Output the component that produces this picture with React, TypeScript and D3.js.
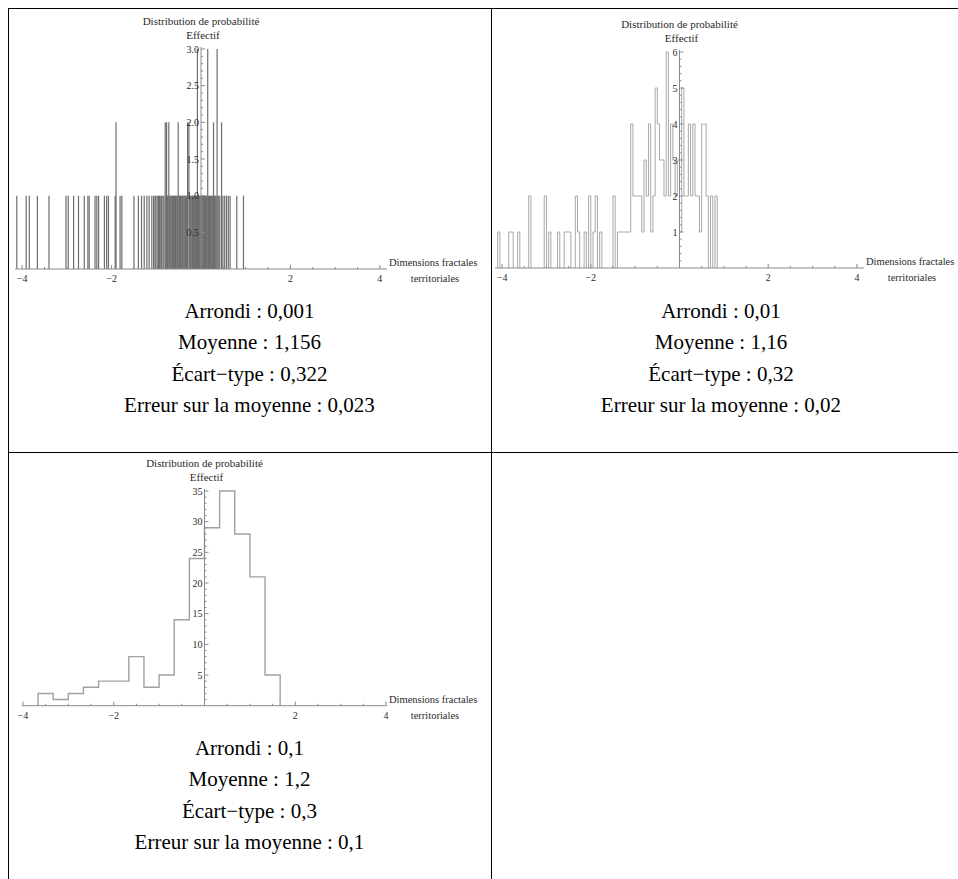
import * as d3 from "d3";
import { useEffect, useRef } from "react";

// texte sous chaque graphique
const arrondis = ["0,001", "0,01", "0,1"];
const moyennes = ["1,156", "1,16", "1,2"];
const ecartsTypes = ["0,322", "0,32", "0,3"];
const erreurs = ["0,023", "0,02", "0,1"];

// arrondi 0,001 : valeurs et effectifs
const valeurs1 = [
  -4.12, -3.91, -3.84, -3.66, -3.4, -3.02, -2.97, -2.85, -2.74, -2.61, -2.53, -2.5,
  -2.37, -2.33, -2.29, -2.16, -2.11, -2.07, -1.92, -1.9, -1.81, -1.77, -1.5, -1.4,
  -1.33, -1.27, -1.21, -1.16, -1.1, -1.06, -1.03, -1.01, -0.98, -0.95, -0.93, -0.9,
  -0.88, -0.85, -0.83, -0.8, -0.78, -0.77, -0.75, -0.74, -0.72, -0.7, -0.69, -0.67,
  -0.65, -0.64, -0.62, -0.61, -0.59, -0.57, -0.56, -0.54, -0.53, -0.51, -0.49, -0.48,
  -0.46, -0.45, -0.43, -0.41, -0.4, -0.38, -0.36, -0.35, -0.33, -0.32, -0.3, -0.27,
  -0.25, -0.24, -0.22, -0.2, -0.19, -0.17, -0.15, -0.14, -0.12, -0.1, -0.08, -0.06,
  -0.05, -0.03, -0.01, 0.01, 0.03, 0.05, 0.06, 0.08, 0.1, 0.12, 0.13, 0.15, 0.17,
  0.19, 0.21, 0.22, 0.24, 0.26, 0.28, 0.3, 0.32, 0.34, 0.36, 0.38, 0.4, 0.42, 0.46,
  0.49, 0.53, 0.57, 0.61, 0.65, 0.8, 0.95,
];
const effectifs1 = [
  1, 1, 1, 1, 1, 1, 1, 1, 1, 1, 1, 1,
  1, 1, 1, 1, 1, 1, 1, 2, 1, 1, 1, 1,
  1, 1, 1, 1, 1, 1, 1, 1, 1, 1, 1, 1,
  1, 1, 1, 2, 1, 2, 1, 1, 2, 1, 1, 1,
  1, 1, 1, 1, 1, 1, 1, 1, 1, 2, 1, 1,
  1, 1, 1, 1, 1, 1, 1, 1, 1, 1, 2, 2,
  1, 1, 1, 1, 1, 1, 1, 1, 1, 1, 3, 1,
  1, 1, 1, 1, 1, 1, 1, 1, 1, 1, 1, 3, 1,
  1, 1, 1, 1, 1, 2, 1, 1, 1, 3, 1, 1, 1, 2,
  1, 1, 1, 1, 1, 1, 1,
];

// arrondi 0,01 : bornes inférieures des classes et effectifs
const largeur2 = 0.05;
const bornes2 = [
  -4.1, -3.85, -3.8, -3.65, -3.4, -3.05, -2.95, -2.75, -2.6, -2.55, -2.5, -2.35, -2.3,
  -2.15, -2.05, -1.95, -1.9, -1.8, -1.5, -1.4, -1.35, -1.3, -1.25, -1.2, -1.15, -1.1,
  -1.05, -1.0, -0.95, -0.9, -0.85, -0.8, -0.75, -0.7, -0.65, -0.6, -0.55, -0.5, -0.45,
  -0.4, -0.35, -0.3, -0.25, -0.2, -0.15, -0.1, -0.05, 0.0, 0.05, 0.1, 0.15, 0.2, 0.25,
  0.3, 0.35, 0.4, 0.45, 0.5, 0.55, 0.6, 0.7, 0.8,
];
const effectifs2 = [
  1, 1, 1, 1, 2, 2, 1, 1, 1, 1, 1, 2, 1,
  1, 2, 1, 2, 1, 2, 1, 1, 1, 1, 1, 1, 4,
  2, 2, 2, 2, 1, 3, 2, 4, 1, 2, 5, 4, 3,
  3, 2, 6, 2, 4, 3, 2, 3, 1, 5, 2, 2, 4, 2,
  4, 2, 2, 1, 4, 4, 2, 2, 2,
];

// arrondi 0,1 : classes de largeur 1/3
const largeur3 = 1 / 3;
const bornes3 = [
  -11 / 3, -10 / 3, -3, -8 / 3, -7 / 3, -2, -5 / 3, -4 / 3, -1, -2 / 3, -1 / 3, 0,
  1 / 3, 2 / 3, 1, 4 / 3,
];
const effectifs3 = [2, 1, 2, 3, 4, 4, 8, 3, 5, 14, 24, 29, 35, 28, 21, 5];

const ticksX = [-4, -2, 2, 4];
const ticksY1 = [0.5, 1, 1.5, 2, 2.5, 3];
const ticksY2 = [1, 2, 3, 4, 5, 6];
const ticksY3 = [5, 10, 15, 20, 25, 30, 35];

const serif = "'Liberation Serif', 'Times New Roman', serif";

const App = () => {
  const ref = useRef<SVGSVGElement>(null);

  useEffect(() => {
    const svg = d3.select(ref.current);
    svg.selectAll("*").remove();

    // grille du tableau
    const grid = svg.append("g").attr("stroke", "#000").attr("stroke-width", 1);
    grid.append("line").attr("x1", 8.5).attr("x2", 8.5).attr("y1", 8).attr("y2", 879);
    grid.append("line").attr("x1", 8).attr("x2", 958).attr("y1", 8.5).attr("y2", 8.5);
    grid.append("line").attr("x1", 491.5).attr("x2", 491.5).attr("y1", 8).attr("y2", 879);
    grid.append("line").attr("x1", 8).attr("x2", 958).attr("y1", 452.5).attr("y2", 452.5);

    const axes = (
      g: any,
      x: d3.ScaleLinear<number, number>,
      y: d3.ScaleLinear<number, number>,
      ticksY: number[],
      fmtY: (d: number) => string,
      minorY: number
    ) => {
      const x0 = x(0);
      const y0 = y(0);
      const [yMax] = y.domain().slice(-1);
      const [xa, xb] = x.range();
      const top = y(yMax) - 2;
      const ax = g.append("g").attr("stroke", "#8a8a8a").attr("stroke-width", 1);
      ax.append("line").attr("x1", xa).attr("x2", xb).attr("y1", y0).attr("y2", y0);
      ax.append("line").attr("x1", x0).attr("x2", x0).attr("y1", y0).attr("y2", top);
      // graduations mineures
      d3.range(-4, 4.01, 0.5).forEach((v) => {
        if (v === 0) return;
        const major = ticksX.includes(v);
        ax.append("line")
          .attr("x1", x(v)).attr("x2", x(v))
          .attr("y1", y0).attr("y2", y0 - (major ? 4 : 2));
      });
      d3.range(minorY, yMax + 1e-6, minorY).forEach((v) => {
        const major = ticksY.some((t) => Math.abs(t - v) < 1e-6);
        ax.append("line")
          .attr("x1", x0).attr("x2", x0 + (major ? 4 : 2))
          .attr("y1", y(v)).attr("y2", y(v));
      });
      const t = g.append("g").attr("font-family", serif).attr("font-size", 10).attr("fill", "#2a2a2a");
      ticksX.forEach((v) => {
        t.append("text")
          .attr("x", x(v)).attr("y", y0 + 13)
          .attr("text-anchor", "middle")
          .text(v < 0 ? "\u2212" + Math.abs(v) : String(v));
      });
      ticksY.forEach((v) => {
        t.append("text")
          .attr("x", x0 - 2).attr("y", y(v)).attr("dy", "0.35em")
          .attr("text-anchor", "end")
          .text(fmtY(v));
      });
      const lab = t.append("g").attr("font-size", 10.5);
      lab.append("text").attr("x", x0).attr("y", y(yMax) - 24).attr("text-anchor", "middle")
        .attr("font-size", 11)
        .text("Distribution de probabilité");
      lab.append("text").attr("x", x0 + 2).attr("y", y(yMax) - 10).attr("text-anchor", "middle")
        .attr("font-size", 11)
        .text("Effectif");
      lab.append("text").attr("x", xb + 2).attr("y", y0 - 3).text("Dimensions fractales");
      lab.append("text").attr("x", xb + 48).attr("y", y0 + 13).attr("text-anchor", "middle")
        .text("territoriales");
    };

    // contour en escalier à partir des classes
    const escalier = (bornes: number[], effectifs: number[], largeur: number) => {
      const pts: [number, number][][] = [];
      let cur: [number, number][] = [];
      let fin = -Infinity;
      bornes.forEach((b, i) => {
        if (Math.abs(b - fin) > 1e-6) {
          if (cur.length) { cur.push([fin, 0]); pts.push(cur); }
          cur = [[b, 0]];
        }
        cur.push([b, effectifs[i]], [b + largeur, effectifs[i]]);
        fin = b + largeur;
      });
      if (cur.length) { cur.push([fin, 0]); pts.push(cur); }
      return pts;
    };

    // graphique 1
    const x1 = d3.scaleLinear().domain([-4.16, 4.16]).range([15, 387]);
    const y1 = d3.scaleLinear().domain([0, 3]).range([269, 49]);
    const g1 = svg.append("g");
    g1.append("g").selectAll("line").data(valeurs1).join("line")
      .attr("x1", (d) => x1(d)).attr("x2", (d) => x1(d))
      .attr("y1", y1(0)).attr("y2", (d, i) => y1(effectifs1[i]))
      .attr("stroke", "#6e6e6e").attr("stroke-width", 1.2);
    axes(g1, x1, y1, ticksY1, (d) => d.toFixed(1), 0.1);

    // graphique 2
    const x2 = d3.scaleLinear().domain([-4.16, 4.16]).range([495, 864]);
    const y2 = d3.scaleLinear().domain([0, 6]).range([268, 52]);
    const g2 = svg.append("g");
    const line2 = d3.line<[number, number]>().x((d) => x2(d[0])).y((d) => y2(d[1]));
    g2.append("g").selectAll("path").data(escalier(bornes2, effectifs2, largeur2)).join("path")
      .attr("d", (d) => line2(d))
      .attr("fill", "none").attr("stroke", "#a8a8a8").attr("stroke-width", 1);
    axes(g2, x2, y2, ticksY2, (d) => String(d), 0.2);

    // graphique 3
    const x3 = d3.scaleLinear().domain([-4.02, 4.02]).range([22, 387]);
    const y3 = d3.scaleLinear().domain([0, 35]).range([705.7, 491]);
    const g3 = svg.append("g");
    const line3 = d3.line<[number, number]>().x((d) => x3(d[0])).y((d) => y3(d[1]));
    g3.append("g").selectAll("path").data(escalier(bornes3, effectifs3, largeur3)).join("path")
      .attr("d", (d) => line3(d))
      .attr("fill", "none").attr("stroke", "#a0a0a0").attr("stroke-width", 1.4);
    axes(g3, x3, y3, ticksY3, (d) => String(d), 1);

    // légendes des cellules
    const cells = [
      { cx: 249.5, y: 318 },
      { cx: 721, y: 318 },
      { cx: 249.5, y: 755 },
    ];
    const txt = svg.append("g").attr("font-family", serif).attr("font-size", 21)
      .attr("fill", "#000").attr("text-anchor", "middle");
    cells.forEach((c, i) => {
      const lignes = [
        "Arrondi : " + arrondis[i],
        "Moyenne : " + moyennes[i],
        "\u00c9cart\u2212type : " + ecartsTypes[i],
        "Erreur sur la moyenne : " + erreurs[i],
      ];
      lignes.forEach((l, k) => {
        txt.append("text").attr("x", c.cx).attr("y", c.y + k * 31.3).text(l);
      });
    });
  }, []);

  return (
    <div style={{ position: "absolute", left: 0, top: 0 }}>
      <svg ref={ref} width={958} height={879} style={{ display: "block" }} />
    </div>
  );
};

export default App;
